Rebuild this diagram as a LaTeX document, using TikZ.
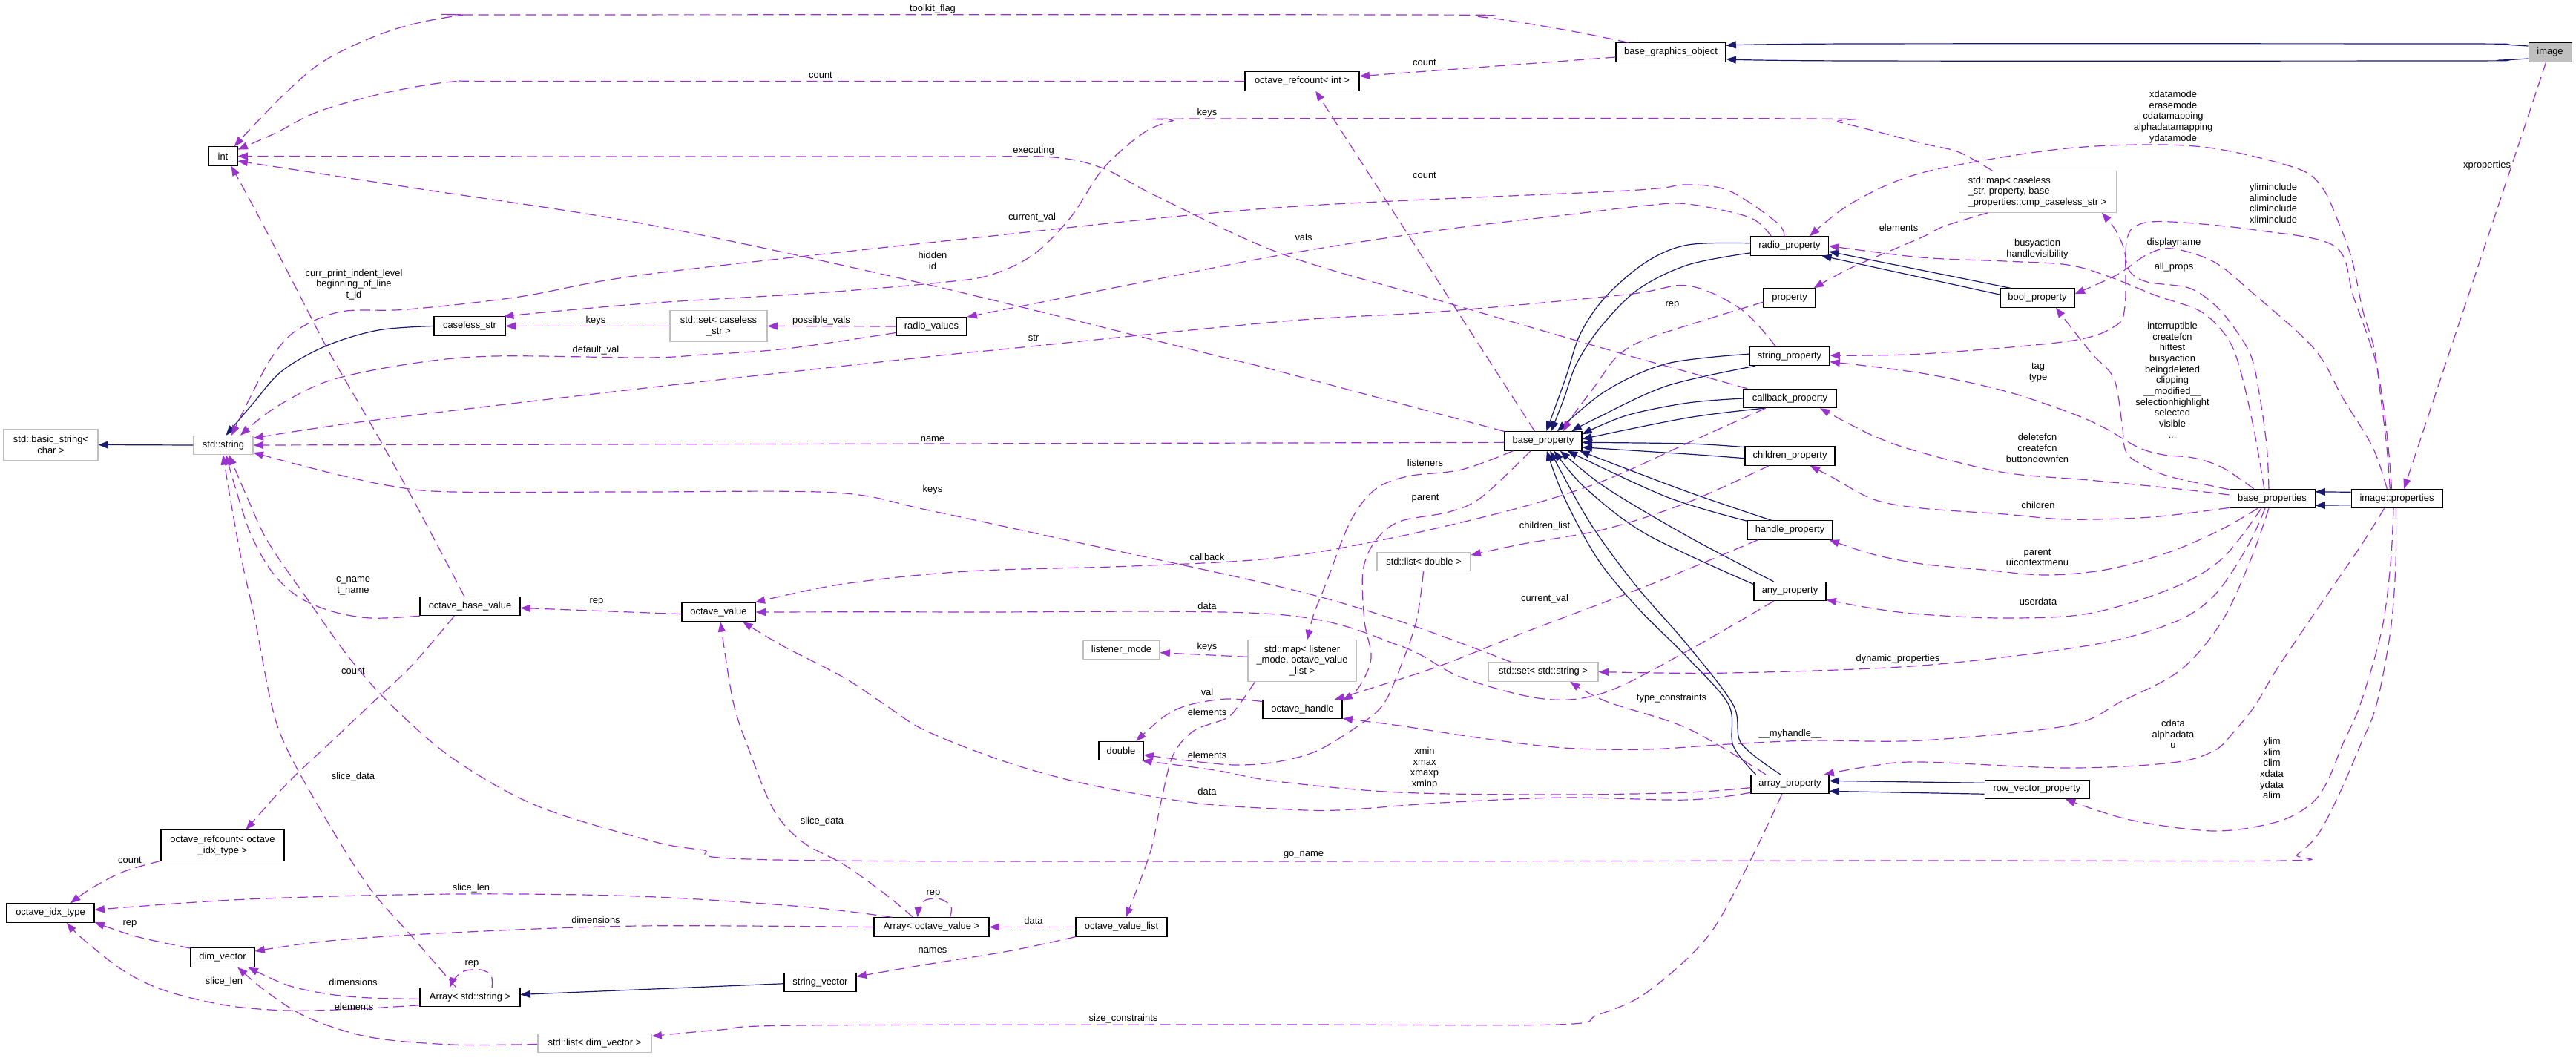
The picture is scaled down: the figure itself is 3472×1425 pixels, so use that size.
\documentclass[tikz,border=0pt]{standalone}
\usepackage{fontspec}
\setmainfont{Liberation Sans}
\usetikzlibrary{arrows.meta}
\definecolor{inhc}{HTML}{191970}
\definecolor{depc}{HTML}{9A32CD}
\definecolor{gbc}{HTML}{BFBFBF}
\begin{document}
\begin{tikzpicture}[x=0.75pt,y=-0.75pt,
  every node/.style={font=\fontsize{9.7}{11}\selectfont},
  cls/.style={draw=black, fill=white, line width=0.8pt, inner sep=0pt, minimum height=19pt},
  ext/.style={cls, draw=gbc},
  two/.style={minimum height=31pt, align=center},
  three/.style={minimum height=41.5pt},
  lbl/.style={inner sep=0pt, align=center},
  inhe/.style={draw=inhc, line width=0.9pt, -{Triangle[length=10pt,width=7.5pt]}},
  depe/.style={draw=depc, line width=0.9pt, dash pattern=on 10.5pt off 5.5pt, -{Triangle[length=10pt,width=7.5pt]}},
  sm/.style={smooth, tension=0.55}
]
\fill[white] (0,0) rectangle (3472,1425);
\useasboundingbox (0,0) rectangle (3472,1425);

% ---------------- nodes ----------------
\node[cls, fill=gbc, minimum width=43.5pt] (image) at (3437,70.5) {image};
\node[cls, minimum width=111pt] (bgo) at (2252,70.5) {base\_graphics\_object};
\node[cls, minimum width=115.5pt] (refint) at (1755,109.5) {octave\_refcount< int >};
\node[cls, minimum width=29.25pt] (int) at (300.5,210.5) {int};
\node[ext, three, align=left, minimum width=159pt] (mapcs) at (2746,258.5) {std::map< caseless\\\_str, property, base\\\_properties::cmp\_caseless\_str >};
\node[cls, minimum width=78.75pt] (radioprop) at (2412,331.5) {radio\_property};
\node[cls, minimum width=52.5pt] (property) at (2412,401.5) {property};
\node[cls, minimum width=75pt] (boolprop) at (2746,401.5) {bool\_property};
\node[cls, minimum width=72pt] (caseless) at (633,439.5) {caseless\_str};
\node[ext, two, minimum width=98.25pt] (setcs) at (968.5,439.5) {std::set< caseless\\\_str >};
\node[cls, minimum width=71.25pt] (radiovals) at (1255.5,440) {radio\_values};
\node[cls, minimum width=81pt] (stringprop) at (2412,480) {string\_property};
\node[cls, minimum width=93.75pt] (callbackprop) at (2412.5,537) {callback\_property};
\node[ext, two, minimum width=95.25pt] (basestr) at (68.5,599.5) {std::basic\_string<\\char >};
\node[ext, minimum width=60pt] (stdstring) at (301,600) {std::string};
\node[cls, minimum width=78pt] (baseprop) at (2080,594.5) {base\_property};
\node[cls, minimum width=90.75pt] (childprop) at (2412.5,614.5) {children\_property};
\node[cls, minimum width=86.25pt] (baseprops) at (3062.5,672) {base\_properties};
\node[cls, minimum width=92.25pt] (imgprops) at (3230.5,672) {image::properties};
\node[cls, minimum width=86.25pt] (handleprop) at (2412.5,714.5) {handle\_property};
\node[ext, minimum width=94.5pt] (listdouble) at (1919,757) {std::list< double >};
\node[cls, minimum width=72.75pt] (anyprop) at (2412.5,797) {any\_property};
\node[cls, minimum width=101.25pt] (obv) at (633.5,817) {octave\_base\_value};
\node[cls, minimum width=74.25pt] (ov) at (968.5,825) {octave\_value};
\node[ext, minimum width=77.25pt] (listener) at (1511.5,876) {listener\_mode};
\node[ext, three, align=center, minimum width=109.5pt] (maplist) at (1755,890.5) {std::map< listener\\\_mode, octave\_value\\\_list >};
\node[ext, minimum width=111pt] (setstr) at (2080,905.5) {std::set< std::string >};
\node[cls, minimum width=80.25pt] (ohandle) at (1755.5,956) {octave\_handle};
\node[cls, minimum width=45pt] (dbl) at (1511,1012) {double};
\node[cls, minimum width=78.75pt] (arrayprop) at (2412.5,1057) {array\_property};
\node[cls, minimum width=105.75pt] (rowvec) at (2745.5,1064) {row\_vector\_property};
\node[cls, two, minimum width=124.5pt] (refidx) at (300,1139.5) {octave\_refcount< octave\\\_idx\_type >};
\node[cls, minimum width=88.5pt] (idx) at (68,1230.5) {octave\_idx\_type};
\node[cls, minimum width=116.25pt] (arrov) at (1255.5,1249.5) {Array< octave\_value >};
\node[cls, minimum width=92.25pt] (ovl) at (1511.5,1249.5) {octave\_value\_list};
\node[cls, minimum width=64.5pt] (dimvec) at (300,1290.5) {dim\_vector};
\node[cls, minimum width=72.75pt] (strvec) at (1105.5,1324) {string\_vector};
\node[cls, minimum width=101.25pt] (arrstr) at (633.5,1344) {Array< std::string >};
\node[ext, minimum width=114.75pt] (listdim) at (801.5,1406) {std::list< dim\_vector >};

% ---------------- inheritance ----------------
\draw[inhe] plot[sm] coordinates {(image.164) (3370,60) (3300,59) (2500,59) (bgo.7)};
\draw[inhe] plot[sm] coordinates {(image.196) (3370,81) (3300,82) (2500,82) (bgo.353)};
\draw[inhe] (imgprops.172) -- (baseprops.9);
\draw[inhe] (imgprops.188) -- (baseprops.351);
\draw[inhe] (stdstring.west) -- (basestr.east);
\draw[inhe] plot[sm] coordinates {(caseless.west) (510,445) (440,466) (380,500) (340,545) (stdstring.75)};
\draw[inhe] plot[sm] coordinates {(radioprop.176) (2275,330) (2219,353) (2164,400) (2130,450) (2110,510) (baseprop.72)};
\draw[inhe] plot[sm] coordinates {(radioprop.190) (2275,357) (2208,390) (2158,440) (2125,490) (2108,537) (baseprop.51)};
\draw[inhe] (boolprop.160) -- (radioprop.352);
\draw[inhe] (boolprop.175) -- (radioprop.343);
\draw[inhe] plot[sm] coordinates {(stringprop.177) (2247,490) (2164,527) (baseprop.35)};
\draw[inhe] plot[sm] coordinates {(stringprop.196) (2247,520) (2153,563) (baseprop.19)};
\draw[inhe] plot[sm] coordinates {(callbackprop.west) (2275,543) (2192,560) (baseprop.10)};
\draw[inhe] plot[sm] coordinates {(callbackprop.201) (2275,563) (baseprop.3)};
\draw[inhe] plot[sm] coordinates {(childprop.169) (2275,598) (baseprop.358)};
\draw[inhe] plot[sm] coordinates {(childprop.183) (2275,612) (baseprop.351)};
\draw[inhe] plot[sm] coordinates {(handleprop.152) (2275,663) (baseprop.345)};
\draw[inhe] plot[sm] coordinates {(handleprop.168) (2247,670) (baseprop.338)};
\draw[inhe] plot[sm] coordinates {(anyprop.169) (2219,720) (2136,657) (baseprop.318)};
\draw[inhe] plot[sm] coordinates {(anyprop.149) (2275,723) (2164,657) (baseprop.330)};
\draw[inhe] plot[sm] coordinates {(arrayprop.164) (2336,1005) (2330,950) (2275,887) (2208,820) (2153,753) (2108,670) (baseprop.290)};
\draw[inhe] plot[sm] coordinates {(arrayprop.134) (2347,1002) (2336,950) (2275,870) (2203,787) (2142,703) (baseprop.305)};
\draw[inhe] (rowvec.173) -- (arrayprop.5);
\draw[inhe] (rowvec.185) -- (arrayprop.350);
\draw[inhe] (strvec.182) -- (arrstr.3);

% ---------------- dependencies ----------------
\draw[depe] plot[sm] coordinates {(bgo.167) (2108,40) (1997,23) (1900,20) (700,20) (620,21) (530,40) (440,80) (380,130) (int.41)};
\draw[depe] plot[sm] coordinates {(refint.west) (1500,109.5) (700,109.5) (610,110) (520,125) (430,150) (370,180) (int.24)};
\draw[depe] (bgo.185) -- (refint.5);
\draw[depe] plot[sm] coordinates {(callbackprop.167) (2270,500) (2180,475) (1950,408) (1730,343) (1560,265) (1487,227) (1420,212) (1300,211) (900,211) (int.east)};
\draw[depe] plot[sm] coordinates {(radioprop.152) (2358,293) (2275,275) (2219,277) (2108,290) (1942,310) (1730,343) (1526,383) (radiovals.15)};
\draw[depe] plot[sm] coordinates {(radioprop.119) (2395,300) (2330,257) (2269,249) (2192,257) (1720,280) (1300,322) (870,370) (700,400) (549,417) (460,420) (400,445) (366,482) (335,540) (stdstring.50)};
\draw[depe] plot[sm] coordinates {(mapcs.155) (2640,205) (2590,193) (2480,165) (2436,160) (1620,160) (1580,163) (1540,180) (1487,227) (1443,293) (1393,343) (1337,370) (1276,380) (1100,395) (870,409) (caseless.16)};
\draw[depe] plot[sm] coordinates {(mapcs.203) (2620,305) (2590,320) (2497,360) (property.22)};
\draw[depe] plot[sm] coordinates {(baseprops.109) (3055,600) (3045,530) (3034,480) (3010,440) (2984,410) (2950,388) (2894,380) (2870,365) (2862,333) (2850,308) (mapcs.342)};
\draw[depe] plot[sm] coordinates {(baseprops.129) (3040,590) (3025,520) (3010,470) (2990,440) (2961,417) (2905,398) (2843,373) (2787,357) (2702,352) (2590,347) (radioprop.0)};
\draw[depe] plot[sm] coordinates {(imgprops.125) (3217,603) (3209,537) (3200,470) (3185,420) (3170,350) (3152,300) (3130,253) (3096,227) (2984,200) (2882,195) (2759,203) (2590,233) (2497,273) (radioprop.26)};
\draw[depe] plot[sm] coordinates {(imgprops.118) (3219,603) (3211,537) (3200,480) (3172,400) (3147,332) (3040,310) (2927,299) (2882,303) (2866,327) (2864,413) (2850,440) (2787,460) (2590,477) (stringprop.1)};
\draw[depe] plot[sm] coordinates {(imgprops.135) (3198,603) (3158,537) (3119,470) (3034,393) (2984,353) (2928,335) (2894,343) (2854,370) (boolprop.6)};
\draw[depe] plot[sm] coordinates {(baseprops.168) (2927,643) (2894,630) (2866,610) (2860,570) (2849,510) (2818,475) (boolprop.332)};
\draw[depe] plot[sm] coordinates {(baseprops.152) (2995,630) (2956,617) (2916,613) (2882,603) (2837,577) (2792,557) (2702,527) (2590,503) (stringprop.352)};
\draw[depe] plot[sm] coordinates {(baseprops.175) (2927,658) (2815,647) (2702,637) (2590,610) (2524,587) (callbackprop.342)};
\draw[depe] plot[sm] coordinates {(baseprops.192) (2899,697) (2787,700) (2702,693) (2590,685) (2525,673) (2469,643) (childprop.334)};
\draw[depe] plot[sm] coordinates {(baseprops.214) (2995,713) (2927,743) (2843,767) (2759,775) (2674,768) (2590,760) (2524,747) (handleprop.346)};
\draw[depe] plot[sm] coordinates {(baseprops.222) (2995,753) (2927,793) (2815,827) (2702,833) (2590,828) (2524,820) (anyprop.347)};
\draw[depe] plot[sm] coordinates {(baseprops.234) (3029,737) (2984,803) (2927,840) (2815,870) (2590,897) (2330,907) (setstr.east)};
\draw[depe] plot[sm] coordinates {(baseprops.251) (3034,753) (2995,837) (2939,903) (2860,945) (2787,978) (2590,998) (2442,998) (2330,1003) (2219,1010) (2108,1008) (1997,995) (1886,978) (ohandle.347)};
\draw[depe] plot[sm] coordinates {(imgprops.218) (3181,737) (3124,820) (3068,903) (3040,950) (3012,985) (2984,1012) (2927,1028) (2787,1035) (2590,1027) (2525,1032) (arrayprop.16)};
\draw[depe] plot[sm] coordinates {(imgprops.251) (3222,760) (3210,850) (3181,950) (3158,1002) (3136,1055) (3113,1085) (3068,1108) (2984,1120) (2871,1105) (rowvec.341)};
\draw[depe] plot[sm] coordinates {(imgprops.265) (3229,760) (3222,850) (3203,950) (3181,1005) (3152,1072) (3124,1125) (3096,1152) (3079,1160) (2600,1160) (1121,1160) (943,1145) (865,1130) (721,1085) (610,1022) (527,950) (471,887) (416,810) (361,730) (333,670) (stdstring.300)};
\draw[depe] (image.248) -- (imgprops.54);
\draw[depe] (baseprop.131) -- (refint.324);
\draw[depe] plot[sm] coordinates {(baseprop.166) (1730,502) (1642,480) (1248,383) (870,302) (555,253) (int.342)};
\draw[depe] plot[sm] coordinates {(property.189) (2302,430) (2219,457) (2180,480) (2150,520) (2120,560) (baseprop.26)};
\draw[depe] plot[sm] coordinates {(stringprop.145) (2347,417) (2275,385) (2192,397) (1942,420) (1730,433) (1359,470) (1259,480) (870,523) (499,567) (stdstring.13)};
\draw[depe] (baseprop.182) -- (stdstring.east);
\draw[depe] plot[sm] coordinates {(setstr.163) (1886,837) (1730,792) (1415,723) (1248,687) (1126,664) (860,663) (610,663) (527,655) (444,637) (stdstring.346)};
\draw[depe] plot[sm] coordinates {(radiovals.190) (1060,470) (949,478) (870,482) (666,480) (555,490) (444,513) (370,550) (stdstring.30)};
\draw[depe] (radiovals.west) -- (setcs.east);
\draw[depe] (setcs.west) -- (caseless.east);
\draw[depe] plot[sm] coordinates {(obv.120) (555,670) (499,570) (444,475) (388,367) (344,283) (int.310)};
\draw[depe] plot[sm] coordinates {(obv.191) (499,833) (444,823) (400,803) (366,770) (338,720) (318,660) (stdstring.285)};
\draw[depe] plot[sm] coordinates {(obv.212) (555,897) (499,950) (444,1002) (388,1055) (refidx.34)};
\draw[depe] plot[sm] coordinates {(arrstr.145) (555,1262) (499,1198) (444,1112) (388,1012) (366,950) (344,837) (322,737) (stdstring.268)};
\draw[depe] (ov.183) -- (obv.358);
\draw[depe] plot[sm] coordinates {(callbackprop.202) (2275,597) (2164,647) (2053,683) (1886,723) (1720,752) (1526,763) (1304,770) (1137,787) (ov.15)};
\draw[depe] plot[sm] coordinates {(anyprop.211) (2275,877) (2164,933) (2081,942) (1970,913) (1886,870) (1720,828) (1300,825) (ov.east)};
\draw[depe] plot[sm] coordinates {(arrayprop.192) (2275,1078) (2108,1075) (1942,1082) (1803,1092) (1720,1090) (1609,1082) (1470,1058) (1359,1028) (1248,985) (1193,950) (1137,913) (1054,870) (ov.338)};
\draw[depe] plot[sm] coordinates {(arrov.152) (1193,1205) (1137,1165) (1082,1135) (1043,1092) (1010,1012) (988,945) (ov.281)};
\draw[depe] plot[sm] coordinates {(arrov.28) (1282,1222) (1268,1212) (1248,1213) (1239,1225) (arrov.145)};
\draw[depe] (ovl.west) -- (arrov.east);
\draw[depe] plot[sm] coordinates {(ovl.192) (1359,1282) (1248,1300) (strvec.9)};
\draw[depe] plot[sm] coordinates {(maplist.204) (1670,950) (1653,968) (1609,985) (1581,1018) (1565,1080) (1550,1150) (ovl.66)};
\draw[depe] plot[sm] coordinates {(ohandle.169) (1653,942) (1603,950) (1570,965) (dbl.33)};
\draw[depe] plot[sm] coordinates {(listdouble.268) (1909,837) (1886,903) (1864,950) (1831,978) (1775,1012) (1720,1027) (1664,1031) (1600,1025) (dbl.350)};
\draw[depe] plot[sm] coordinates {(arrayprop.185) (2275,1068) (2108,1071) (1886,1068) (1720,1053) (1637,1038) (dbl.335)};
\draw[depe] plot[sm] coordinates {(arrayprop.158) (2275,982) (2164,945) (setstr.340)};
\draw[depe] plot[sm] coordinates {(arrayprop.231) (2358,1162) (2302,1262) (2219,1338) (2153,1368) (2097,1381) (1720,1381) (1082,1382) (971,1388) (listdim.7)};
\draw[depe] plot[sm] coordinates {(baseprop.198) (1970,633) (1897,642) (1853,660) (1820,703) (1787,787) (1770,830) (maplist.76)};
\draw[depe] plot[sm] coordinates {(baseprop.218) (1997,670) (1953,690) (1886,703) (1853,730) (1837,770) (1839,837) (1848,887) (1831,927) (ohandle.13)};
\draw[depe] plot[sm] coordinates {(handleprop.197) (2219,790) (2053,853) (1942,897) (1831,933) (ohandle.17)};
\draw[depe] plot[sm] coordinates {(childprop.205) (2275,677) (2164,713) (2053,733) (listdouble.8)};
\draw[depe] (maplist.176) -- (listener.356);
\draw[depe] plot[sm] coordinates {(arrov.166) (1082,1222) (860,1208) (610,1205) (333,1212) (idx.4)};
\draw[depe] plot[sm] coordinates {(arrov.west) (860,1248) (610,1257) (444,1268) (dimvec.11)};
\draw[depe] plot[sm] coordinates {(dimvec.164) (183,1262) (idx.348)};
\draw[depe] plot[sm] coordinates {(refidx.194) (166,1175) (122,1198) (idx.26)};
\draw[depe] plot[sm] coordinates {(arrstr.24) (662,1315) (648,1307) (625,1309) (612,1320) (arrstr.154)};
\draw[depe] plot[sm] coordinates {(arrstr.182) (499,1345) (444,1340) (388,1328) (dimvec.339)};
\draw[depe] plot[sm] coordinates {(arrstr.189) (477,1360) (388,1362) (305,1355) (222,1335) (166,1308) (111,1265) (idx.329)};
\draw[depe] plot[sm] coordinates {(listdim.181) (610,1408) (499,1398) (416,1372) (361,1338) (dimvec.327)};

% ---------------- labels ----------------
\node[lbl] (l01) at (1257,12) {toolkit\_flag};
\node[lbl] (l02) at (1106,101) {count};
\node[lbl] (l03) at (1920,84) {count};
\node[lbl] (l04) at (1627,152) {keys};
\node[lbl] (l05) at (2929,157.5) {xdatamode\\erasemode\\cdatamapping\\alphadatamapping\\ydatamode};
\node[lbl] (l06) at (1393,203) {executing};
\node[lbl] (l07) at (3352,223) {xproperties};
\node[lbl] (l08) at (1920,236) {count};
\node[lbl] (l09) at (3064,274) {yliminclude\\aliminclude\\climinclude\\xliminclude};
\node[lbl] (l10) at (1391,293) {current\_val};
\node[lbl] (l11) at (2559,307) {elements};
\node[lbl] (l12) at (1757,320) {vals};
\node[lbl] (l13) at (2746,335.5) {busyaction\\handlevisibility};
\node[lbl] (l14) at (2930,327) {displayname};
\node[lbl] (l15) at (1257,351.5) {hidden\\id};
\node[lbl] (l16) at (2930,360) {all\_props};
\node[lbl] (l17) at (477,383.5) {curr\_print\_indent\_level\\beginning\_of\_line\\t\_id};
\node[lbl] (l18) at (2254,411) {rep};
\node[lbl] (l19) at (803,432) {keys};
\node[lbl] (l20) at (1107,432) {possible\_vals};
\node[lbl] (l21) at (1393,455) {str};
\node[lbl] (l22) at (803,472) {default\_val};
\node[lbl] (l23) at (2928,512) {interruptible\\createfcn\\hittest\\busyaction\\beingdeleted\\clipping\\\_\_modified\_\_\\selectionhighlight\\selected\\visible\\...};
\node[lbl] (l24) at (2747,502) {tag\\type};
\node[lbl] (l25) at (1257,592) {name};
\node[lbl] (l26) at (2746,604) {deletefcn\\createfcn\\buttondownfcn};
\node[lbl] (l27) at (1921,624) {listeners};
\node[lbl] (l28) at (1257,660) {keys};
\node[lbl] (l29) at (1921,672) {parent};
\node[lbl] (l30) at (2747,681) {children};
\node[lbl] (l31) at (2082,709) {children\_list};
\node[lbl] (l32) at (2746,751.5) {parent\\uicontextmenu};
\node[lbl] (l33) at (1627,751) {callback};
\node[lbl] (l34) at (476,790) {c\_name\\t\_name};
\node[lbl] (l35) at (2082,807) {current\_val};
\node[lbl] (l36) at (804,811) {rep};
\node[lbl] (l37) at (2747,811) {userdata};
\node[lbl] (l38) at (1627,817) {data};
\node[lbl] (l39) at (1627,872) {keys};
\node[lbl] (l40) at (2558,888) {dynamic\_properties};
\node[lbl] (l41) at (476,904) {count};
\node[lbl] (l42) at (1627,933) {val};
\node[lbl] (l43) at (2253,941) {type\_constraints};
\node[lbl] (l44) at (1627,960) {elements};
\node[lbl] (l45) at (2929,989.5) {cdata\\alphadata\\u};
\node[lbl] (l46) at (2413,989) {\_\_myhandle\_\_};
\node[lbl] (l47) at (1920,1035) {xmin\\xmax\\xmaxp\\xminp};
\node[lbl] (l48) at (3062,1035.5) {ylim\\xlim\\clim\\xdata\\ydata\\alim};
\node[lbl] (l49) at (1627,1018) {elements};
\node[lbl] (l50) at (476,1047) {slice\_data};
\node[lbl] (l51) at (1627,1067) {data};
\node[lbl] (l52) at (1108,1107) {slice\_data};
\node[lbl] (l53) at (1757,1152) {go\_name};
\node[lbl] (l54) at (175,1159) {count};
\node[lbl] (l55) at (635,1197) {slice\_len};
\node[lbl] (l56) at (1258,1204) {rep};
\node[lbl] (l57) at (803,1240) {dimensions};
\node[lbl] (l58) at (1393,1241) {data};
\node[lbl] (l59) at (175,1245) {rep};
\node[lbl] (l60) at (1257,1281) {names};
\node[lbl] (l61) at (636,1299) {rep};
\node[lbl] (l62) at (302,1323) {slice\_len};
\node[lbl] (l63) at (476,1324) {dimensions};
\node[lbl] (l64) at (477,1357) {elements};
\node[lbl] (l65) at (1514,1373) {size\_constraints};
\end{tikzpicture}
\end{document}
